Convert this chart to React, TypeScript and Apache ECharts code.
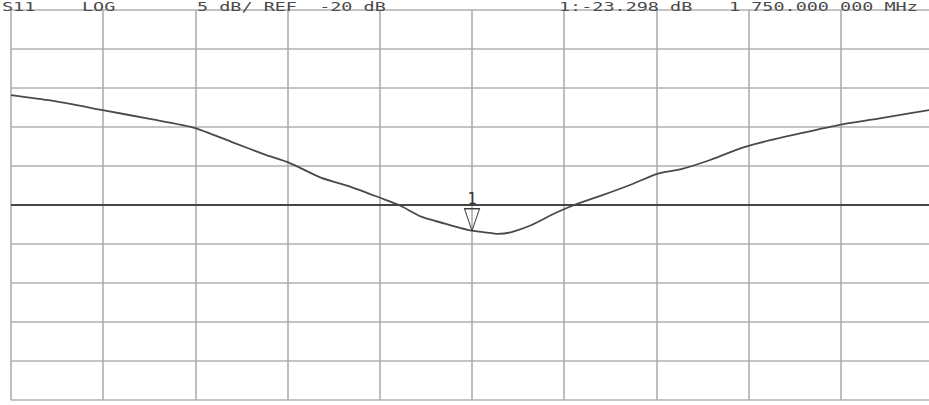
import React, { useEffect, useRef } from "react";
import * as echarts from "echarts";

// Frequency (MHz) of each trace sample
const freqMHz = [1250, 1293, 1348, 1402, 1449, 1489, 1527, 1552, 1586, 1619, 1651, 1671, 1695, 1727, 1750, 1771, 1778, 1792, 1814, 1841, 1861, 1890, 1922, 1951, 1977, 2009, 2042, 2063, 2107, 2150, 2194, 2247];
// S11 magnitude (dB)
const s11dB = [-5.9, -6.6, -7.8, -9.0, -10.1, -11.9, -13.6, -14.6, -16.5, -17.7, -19.1, -20.0, -21.5, -22.6, -23.3, -23.6, -23.7, -23.5, -22.6, -21.0, -20.0, -18.8, -17.4, -16.0, -15.4, -14.2, -12.7, -12.0, -10.8, -9.7, -8.85, -7.8];

const startMHz = 1250;
const stopMHz = 2250;
const stepMHz = 100;
const refDB = -20;
const scaleDB = 5;
const topDB = 5;
const bottomDB = -45;

const markerFreq = 1750;
const markerDB = -23.298;

const headerTexts = [
  { text: "S11", x: 2 },
  { text: "LOG", x: 82 },
  { text: "5 dB/ REF  -20 dB", x: 197 },
  { text: "1:-23.298 dB", x: 559 },
  { text: "1 750.000 000 MHz", x: 729 },
];

export default function App() {
  const ref = useRef<HTMLDivElement>(null);
  useEffect(() => {
    if (!ref.current) return;
    const chart = echarts.init(ref.current, undefined, { renderer: "svg" });
    const data = freqMHz.map((f, i) => [f, s11dB[i]]);
    const headers = headerTexts.map((h) => ({
      type: "text",
      x: h.x,
      y: 0,
      scaleX: 1.42,
      style: { text: h.text, fill: "#4a4a4a", font: '13px "DejaVu Sans Mono"', verticalAlign: "top" },
      z: 10,
    }));
    chart.setOption({
      animation: false,
      backgroundColor: "#ffffff",
      grid: { left: 11, top: 10, width: 922, height: 390 },
      xAxis: {
        type: "value",
        min: startMHz,
        max: stopMHz,
        interval: stepMHz,
        axisLabel: { show: false },
        axisTick: { show: false },
        axisLine: { show: false },
        splitLine: { show: true, lineStyle: { color: "#a8a8a8", width: 1.5 } },
      },
      yAxis: {
        type: "value",
        min: bottomDB,
        max: topDB,
        interval: scaleDB,
        axisLabel: { show: false },
        axisTick: { show: false },
        axisLine: { show: false },
        splitLine: { show: true, lineStyle: { color: "#c4c4c4", width: 2 } },
      },
      graphic: headers,
      series: [
        {
          type: "line",
          data,
          showSymbol: false,
          smooth: 0.2,
          lineStyle: { color: "#4a4a4a", width: 1.8 },
          markLine: {
            silent: true,
            symbol: "none",
            label: { show: false },
            lineStyle: { color: "#454545", width: 2, type: "solid" },
            data: [{ yAxis: refDB }],
          },
          markPoint: {
            symbol: "triangle",
            symbolRotate: 180,
            symbolSize: [15, 22],
            symbolOffset: [0, -11],
            itemStyle: { color: "rgba(255,255,255,0)", borderColor: "#404040", borderWidth: 1.2 },
            label: {
              show: true,
              formatter: "1",
              position: "top",
              distance: 1,
              color: "#333333",
              fontSize: 15,
              fontFamily: "DejaVu Sans Mono",
            },
            data: [{ coord: [markerFreq, markerDB] }],
          },
        },
      ],
    });
    return () => chart.dispose();
  }, []);
  return (
    <div style={{ position: "fixed", left: 0, top: 0, width: 929, height: 405, overflow: "hidden", background: "#fff" }}>
      <div ref={ref} style={{ width: 940, height: 405 }} />
    </div>
  );
}
